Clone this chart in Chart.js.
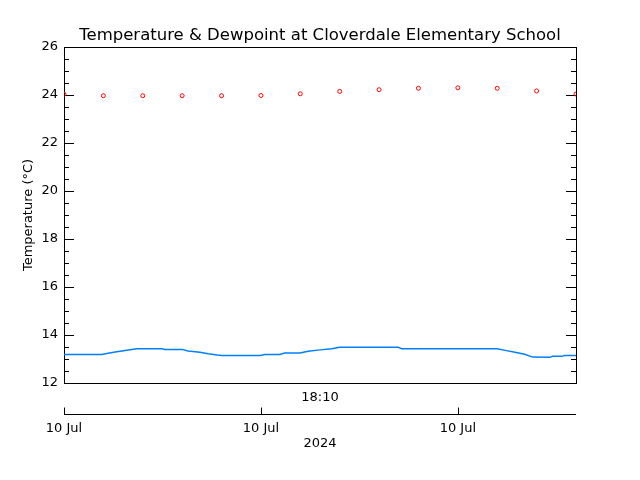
<!DOCTYPE html>
<html>
<head>
<meta charset="utf-8">
<script src="https://cdn.jsdelivr.net/npm/chart.js@4/dist/chart.umd.min.js"></script>
<style>
  html, body { margin: 0; padding: 0; background: #fff; }
</style>
</head>
<body>
<canvas id="tempChart" width="640" height="480"></canvas>
<script>
// red markers (temperature), one per sample
const tempX = [0, 1, 2, 3, 4, 5, 6, 7, 8, 9, 10, 11, 12, 13];
const tempVals = [24.03, 23.97, 23.97, 23.97, 23.97, 23.98, 24.05, 24.15, 24.22, 24.28, 24.30, 24.28, 24.17, 24.04];

// blue line (dewpoint)
const dewX = [0, 0.96, 1.12, 1.30, 1.55, 1.85, 2.49, 2.56, 3.0, 3.15, 3.45, 3.66, 3.89, 4.01, 4.98, 5.1, 5.48, 5.6, 5.99, 6.2, 6.5, 6.8, 7.0, 8.48, 8.58, 11.0, 11.2, 11.45, 11.7, 11.9, 12.34, 12.4, 12.65, 12.7, 13.0];
const dewVals = [13.19, 13.19, 13.24, 13.29, 13.35, 13.43, 13.43, 13.40, 13.40, 13.33, 13.28, 13.22, 13.17, 13.15, 13.15, 13.19, 13.19, 13.25, 13.25, 13.32, 13.38, 13.43, 13.49, 13.49, 13.43, 13.43, 13.36, 13.28, 13.20, 13.08, 13.07, 13.11, 13.11, 13.15, 13.15];

// time axis below the plot
const timeTicks = [0, 5, 10];
const timeLabels = ['10 Jul', '10 Jul', '10 Jul'];
const timeCenter = '18:10';
const yearLabel = '2024';

const FONT = '"DejaVu Sans", sans-serif';

const framePlugin = {
    id: 'frame',
    beforeDatasetsDraw(chart) {
        const ctx = chart.ctx;
        const a = chart.chartArea;
        const ys = chart.scales.y;
        const xs = chart.scales.x;
        ctx.save();
        ctx.strokeStyle = '#000';
        ctx.lineWidth = 1;
        ctx.strokeRect(Math.round(a.left) + 0.5, Math.round(a.top) + 0.5, Math.round(a.right - a.left), Math.round(a.bottom - a.top));

        // inside tick marks on left and right
        ys.ticks.forEach(t => {
            const y = Math.round(ys.getPixelForValue(t.value)) + 0.5;
            const len = (t.value % 2 === 0) ? 10 : 5;
            ctx.beginPath();
            ctx.moveTo(a.left, y);
            ctx.lineTo(a.left + len, y);
            ctx.moveTo(a.right, y);
            ctx.lineTo(a.right - len, y);
            ctx.stroke();
        });

        // separate time axis
        const axisY = Math.round(a.bottom + 31) + 0.5;
        ctx.beginPath();
        ctx.moveTo(a.left, axisY);
        ctx.lineTo(a.right, axisY);
        timeTicks.forEach(v => {
            const x = Math.round(xs.getPixelForValue(v)) + 0.5;
            ctx.moveTo(x, axisY);
            ctx.lineTo(x, axisY - 7);
        });
        ctx.stroke();

        ctx.fillStyle = '#000';
        ctx.font = '13px ' + FONT;
        ctx.textAlign = 'center';
        ctx.textBaseline = 'middle';
        timeTicks.forEach((v, i) => {
            ctx.fillText(timeLabels[i], xs.getPixelForValue(v), axisY + 14);
        });
        const cx = (a.left + a.right) / 2;
        ctx.fillText(timeCenter, cx, a.bottom + 15);
        ctx.fillText(yearLabel, cx, axisY + 29);
        ctx.restore();
    }
};

const ctx = document.getElementById('tempChart').getContext('2d');
new Chart(ctx, {
    type: 'scatter',
    data: {
        datasets: [{
            label: 'Temperature',
            data: tempX.map((x, i) => ({ x: x, y: tempVals[i] })),
            showLine: false,
            pointStyle: 'circle',
            pointRadius: 2,
            pointBorderWidth: 1,
            pointBorderColor: '#ff0000',
            pointBackgroundColor: 'rgba(0,0,0,0)'
        }, {
            label: 'Dewpoint',
            data: dewX.map((x, i) => ({ x: x, y: dewVals[i] })),
            showLine: true,
            borderColor: '#0080ff',
            borderWidth: 1.5,
            pointRadius: 0,
            tension: 0
        }]
    },
    options: {
        responsive: false,
        animation: false,
        layout: { padding: { left: 0, right: 0, top: 0, bottom: 97 } },
        plugins: {
            legend: { display: false },
            tooltip: { enabled: false },
            title: {
                display: true,
                text: 'Temperature & Dewpoint at Cloverdale Elementary School',
                color: '#000',
                font: { family: FONT, size: 16.5, weight: 'normal' },
                padding: { top: 26, bottom: 1.2 }
            }
        },
        scales: {
            x: {
                type: 'linear',
                min: 0,
                max: 13,
                display: false
            },
            y: {
                min: 12,
                max: 26,
                afterFit(scale) { scale.width = 64; },
                grid: { display: false, drawTicks: false },
                border: { display: false },
                ticks: {
                    stepSize: 0.5,
                    autoSkip: false,
                    padding: 6,
                    color: '#000',
                    font: { family: FONT, size: 13 },
                    callback: v => (v % 2 === 0 ? v : '')
                },
                title: {
                    display: true,
                    text: 'Temperature (°C)',
                    color: '#000',
                    font: { family: FONT, size: 13 },
                    padding: { top: 21, bottom: 0 }
                }
            },
            // empty right margin so the title centres on the page
            yRight: {
                position: 'right',
                display: true,
                min: 12,
                max: 26,
                afterFit(scale) { scale.width = 64; },
                grid: { display: false, drawTicks: false },
                border: { display: false },
                ticks: { display: false }
            }
        }
    },
    plugins: [framePlugin]
});
</script>
</body>
</html>
